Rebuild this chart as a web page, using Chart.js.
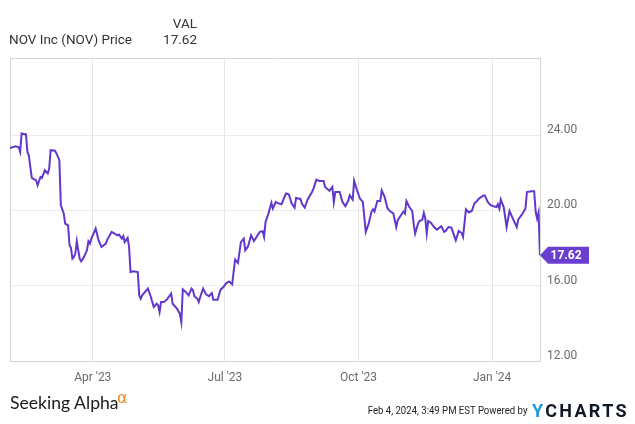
<!DOCTYPE html>
<html lang="en">
<head>
<meta charset="UTF-8">
<title>NOV Inc (NOV) Price</title>
<script src="https://cdn.jsdelivr.net/npm/chart.js@4/dist/chart.umd.min.js"></script>
<style>
  html, body { margin: 0; padding: 0; background: #fff; }
  #wrap { position: relative; width: 635px; height: 424px; overflow: hidden; font-family: Roboto, sans-serif; }
  #statsChart { position: absolute; left: 0; top: 0; }
  .txt { position: absolute; white-space: nowrap; line-height: 1; color: #333; }
</style>
</head>
<body>
<div id="wrap">
  <canvas id="statsChart" width="635" height="424"></canvas>
  <div class="txt" style="left:0;width:197px;text-align:right;top:17px;font-size:13.5px;">VAL</div>
  <div class="txt" style="left:9px;top:33px;font-size:13.5px;">NOV Inc (NOV) Price</div>
  <div class="txt" style="left:0;width:197px;text-align:right;top:33px;font-size:13.5px;">17.62</div>
  <div class="txt" style="left:10px;top:394px;font-size:17.6px;font-family:Lato,sans-serif;color:#1a1a1a;">Seeking Alpha</div>
  <div class="txt" style="left:117px;top:390px;font-size:16px;font-family:'DejaVu Sans',sans-serif;color:#f0892a;">&alpha;</div>
  <div class="txt" style="right:108px;top:405px;font-size:11px;color:#222;transform:scaleX(0.87);transform-origin:right center;">Feb 4, 2024, 3:49 PM EST Powered by</div>
  <div class="txt" style="left:532px;top:402px;font-size:18px;font-weight:bold;letter-spacing:2.3px;color:#111827;"><span style="color:#1e9ae0;">Y</span>CHARTS</div>
</div>

<script>
  const startDate = "2023-02-03";
  const endDate = "2024-02-03";

  const dates = [
    "2023-02-03","2023-02-07","2023-02-09","2023-02-10","2023-02-11","2023-02-14","2023-02-15","2023-02-16",
    "2023-02-18","2023-02-21","2023-02-22","2023-02-24","2023-02-25","2023-02-27","2023-03-01","2023-03-02",
    "2023-03-03","2023-03-06","2023-03-07","2023-03-09","2023-03-10","2023-03-12","2023-03-13","2023-03-15",
    "2023-03-16","2023-03-17","2023-03-18","2023-03-19","2023-03-20","2023-03-21","2023-03-23","2023-03-24",
    "2023-03-26","2023-03-28","2023-03-29","2023-03-30","2023-03-31","2023-04-01","2023-04-03","2023-04-05",
    "2023-04-07","2023-04-10","2023-04-11","2023-04-14","2023-04-16","2023-04-18","2023-04-19","2023-04-21",
    "2023-04-22","2023-04-23","2023-04-25","2023-04-26","2023-04-27","2023-04-29","2023-05-02","2023-05-03",
    "2023-05-04","2023-05-05","2023-05-09","2023-05-11","2023-05-13","2023-05-15","2023-05-16","2023-05-17",
    "2023-05-18","2023-05-20","2023-05-22","2023-05-25","2023-05-26","2023-05-29","2023-05-31","2023-06-01",
    "2023-06-02","2023-06-04","2023-06-06","2023-06-08","2023-06-09","2023-06-10","2023-06-12","2023-06-13",
    "2023-06-14","2023-06-16","2023-06-18","2023-06-20","2023-06-22","2023-06-23","2023-06-26","2023-06-28",
    "2023-06-30","2023-07-02","2023-07-04","2023-07-06","2023-07-08","2023-07-10","2023-07-12","2023-07-14",
    "2023-07-15","2023-07-17","2023-07-19","2023-07-21","2023-07-22","2023-07-25","2023-07-27","2023-07-28",
    "2023-07-29","2023-07-31","2023-08-02","2023-08-03","2023-08-05","2023-08-06","2023-08-09","2023-08-12",
    "2023-08-14","2023-08-16","2023-08-18","2023-08-19","2023-08-22","2023-08-23","2023-08-25","2023-08-27",
    "2023-08-30","2023-08-31","2023-09-02","2023-09-04","2023-09-07","2023-09-08","2023-09-11","2023-09-13",
    "2023-09-14","2023-09-15","2023-09-18","2023-09-20","2023-09-22","2023-09-24","2023-09-25","2023-09-27",
    "2023-09-28","2023-09-30","2023-10-02","2023-10-04","2023-10-06","2023-10-08","2023-10-10","2023-10-11",
    "2023-10-12","2023-10-14","2023-10-16","2023-10-17","2023-10-19","2023-10-21","2023-10-23","2023-10-25",
    "2023-10-27","2023-10-28","2023-10-31","2023-11-01","2023-11-02","2023-11-03","2023-11-05","2023-11-07",
    "2023-11-08","2023-11-09","2023-11-11","2023-11-12","2023-11-14","2023-11-15","2023-11-16","2023-11-17",
    "2023-11-18","2023-11-20","2023-11-22","2023-11-24","2023-11-27","2023-11-29","2023-11-30","2023-12-02",
    "2023-12-04","2023-12-05","2023-12-07","2023-12-09","2023-12-11","2023-12-12","2023-12-14","2023-12-16",
    "2023-12-18","2023-12-20","2023-12-21","2023-12-23","2023-12-26","2023-12-27","2023-12-29","2023-12-31",
    "2024-01-02","2024-01-04","2024-01-05","2024-01-06","2024-01-07","2024-01-08","2024-01-09","2024-01-11",
    "2024-01-13","2024-01-15","2024-01-18","2024-01-19","2024-01-22","2024-01-24","2024-01-25","2024-01-28",
    "2024-01-30","2024-01-31","2024-02-01","2024-02-02","2024-02-03"
  ];

  const prices = [
    23.32,23.41,23.36,23.11,24.09,24.04,23.11,22.90,
    21.73,21.60,21.34,21.78,21.73,22.14,21.96,22.23,
    23.20,23.17,23.03,22.67,20.28,19.84,19.30,19.21,
    18.15,18.00,17.44,17.53,17.71,18.36,17.44,17.30,
    17.53,17.88,18.36,18.24,18.50,18.68,19.04,18.41,
    18.06,18.24,18.45,18.86,18.77,18.68,18.72,18.50,
    18.63,18.32,18.54,18.06,16.73,16.77,16.73,15.49,
    15.31,15.49,15.85,15.40,14.87,15.04,14.96,14.60,
    15.13,15.13,15.26,15.58,15.04,14.78,14.51,14.07,
    15.81,15.67,15.49,15.85,15.76,15.44,15.31,15.13,
    15.40,15.85,15.54,15.44,15.61,15.26,15.26,15.79,
    15.93,16.14,16.23,16.07,17.39,17.21,18.32,18.50,
    17.88,18.10,18.68,18.38,18.50,18.86,18.90,18.59,
    19.39,19.84,20.40,20.10,20.45,20.40,20.33,20.90,
    20.86,20.37,20.15,20.66,20.61,20.37,20.15,20.58,
    20.98,21.16,21.64,21.57,21.57,21.25,21.04,21.25,
    20.45,20.98,20.98,20.45,20.22,20.54,20.80,20.58,
    21.57,21.07,20.63,20.45,18.86,19.30,19.94,20.06,
    19.94,20.50,20.50,21.07,20.72,20.10,19.94,19.84,
    19.12,19.48,19.84,19.94,19.84,20.50,20.18,19.97,
    19.30,18.77,19.30,19.44,19.51,19.87,19.57,18.77,
    19.44,19.34,19.12,18.98,19.16,18.86,18.91,19.12,
    19.09,18.86,18.41,18.91,18.80,18.59,20.06,19.89,
    19.97,20.40,20.45,20.63,20.80,20.80,20.45,20.28,
    20.22,20.18,20.33,20.10,20.58,20.37,20.18,19.12,
    19.97,19.62,19.12,19.51,19.84,20.10,20.98,21.02,
    21.02,19.94,19.57,19.89,17.62
  ];

  const xTickDates = ["2023-04-01", "2023-07-01", "2023-10-01", "2024-01-01"];
  const xTickLabels = ["Apr '23", "Jul '23", "Oct '23", "Jan '24"];
  const yTicks = [12, 16, 20, 24];
  const yMin = 12;
  const yMax = 28.1;

  const lineColor = "#6237cc";
  const flagColor = "#6a3fd0";

  function dayOf(d) {
    return (Date.parse(d) - Date.parse(startDate)) / 86400000;
  }

  const points = dates.map((d, i) => ({ x: dayOf(d), y: prices[i] }));
  const xTickDays = xTickDates.map(dayOf);

  // left + top border of the plot box, and the last-value flag
  const boxPlugin = {
    id: "box",
    beforeDatasetsDraw(chart) {
      const { ctx, chartArea: a } = chart;
      ctx.save();
      ctx.strokeStyle = "#d4d4d4";
      ctx.lineWidth = 1;
      ctx.beginPath();
      ctx.moveTo(a.left + 0.5, a.bottom);
      ctx.lineTo(a.left + 0.5, a.top + 0.5);
      ctx.lineTo(a.right, a.top + 0.5);
      ctx.stroke();
      ctx.restore();
    },
    afterDatasetsDraw(chart) {
      const { ctx, chartArea: a } = chart;
      const last = prices[prices.length - 1];
      const y = chart.scales.y.getPixelForValue(last);
      const x0 = a.right;
      ctx.save();
      ctx.fillStyle = flagColor;
      ctx.beginPath();
      ctx.moveTo(x0, y);
      ctx.lineTo(x0 + 8, y - 8.5);
      ctx.lineTo(x0 + 49, y - 8.5);
      ctx.lineTo(x0 + 49, y + 8.5);
      ctx.lineTo(x0 + 8, y + 8.5);
      ctx.closePath();
      ctx.fill();
      ctx.fillStyle = "#fff";
      ctx.font = "bold 12px Roboto";
      ctx.textAlign = "center";
      ctx.textBaseline = "middle";
      ctx.fillText(last.toFixed(2), x0 + 26, y + 0.5);
      ctx.restore();
    }
  };

  Chart.defaults.font.family = "Roboto";

  new Chart(document.getElementById("statsChart"), {
    type: "line",
    data: {
      datasets: [{
        label: "NOV Inc (NOV) Price",
        data: points,
        borderColor: lineColor,
        borderWidth: 2,
        pointRadius: 0,
        tension: 0,
        fill: false
      }]
    },
    options: {
      responsive: false,
      animation: false,
      layout: { padding: { left: 10, top: 58, right: 0, bottom: 0 } },
      plugins: { legend: { display: false }, tooltip: { enabled: false } },
      scales: {
        x: {
          type: "linear",
          position: "bottom",
          min: 0,
          max: dayOf(endDate),
          afterBuildTicks: s => { s.ticks = xTickDays.map(v => ({ value: v })); },
          afterFit: s => { s.height = 63; },
          grid: { color: "#e6e6e6", drawTicks: false },
          border: { color: "#d4d4d4" },
          ticks: {
            autoSkip: false,
            maxRotation: 0,
            padding: 10,
            color: "#6b6b6b",
            font: { size: 12 },
            callback: v => xTickLabels[xTickDays.indexOf(v)]
          }
        },
        y: {
          position: "right",
          min: yMin,
          max: yMax,
          afterBuildTicks: s => { s.ticks = yTicks.map(v => ({ value: v })); },
          afterFit: s => { s.width = 95; },
          grid: { color: "#ececec", drawTicks: false },
          border: { color: "#d4d4d4" },
          ticks: {
            padding: 7,
            labelOffset: -5,
            color: "#6b6b6b",
            font: { size: 12 },
            callback: v => v.toFixed(2)
          }
        }
      }
    },
    plugins: [boxPlugin]
  });
</script>
</body>
</html>
